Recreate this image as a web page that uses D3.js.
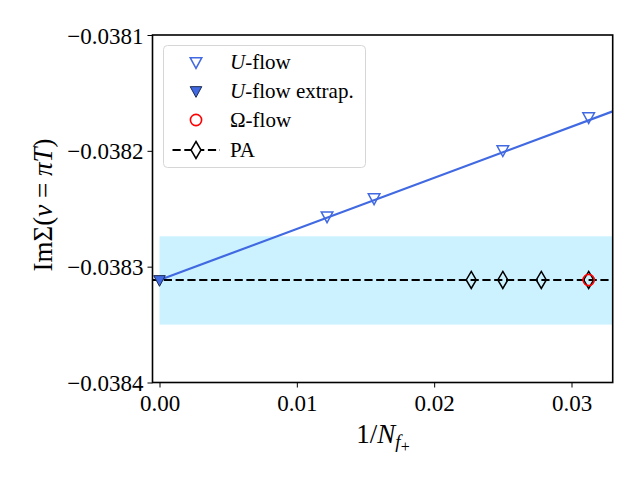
<!DOCTYPE html>
<html>
<head>
<meta charset="utf-8">
<script src="https://cdn.jsdelivr.net/npm/d3@7"></script>
<style>
  body { margin: 0; background: #fff; }
  svg text { font-family: "Liberation Serif", "DejaVu Serif", serif; fill: #000; }
</style>
</head>
<body>
<svg id="board" width="640" height="480"></svg>
<script>
// U-flow data points
let uflowX = [0.0122, 0.015625, 0.025, 0.03125]
let uflowY = [-0.0382565, -0.0382409, -0.0381994, -0.0381709]

// extrapolated value at 1/N = 0
let extrapX = [0]
let extrapY = [-0.0383115]

// linear fit through the U-flow points (end points)
let fitX = [0, 0.034]
let fitY = [-0.0383115, -0.0381615]

// Omega-flow point
let omegaX = [0.03125]
let omegaY = [-0.0383115]

// PA points
let paX = [0.0227, 0.025, 0.0278, 0.03125]
let paY = [-0.0383115, -0.0383115, -0.0383115, -0.0383115]
let paLevel = -0.0383115

// uncertainty band
let bandLow = -0.03835
let bandHigh = -0.0382738

let xTicks = [0, 0.01, 0.02, 0.03]
let yTicks = [-0.0384, -0.0383, -0.0382, -0.0381]

let svg = d3.select('#board')

let pLeft = 152.5, pRight = 612.7, pTop = 35, pBottom = 382.5

let x = d3.scaleLinear().domain([-0.00051, 0.033]).range([pLeft, pRight])
let y = d3.scaleLinear().domain([-0.0384, -0.0381]).range([pBottom, pTop])

svg.append('clipPath').attr('id', 'clip')
    .append('rect')
    .attr('x', pLeft).attr('y', pTop)
    .attr('width', pRight - pLeft).attr('height', pBottom - pTop)

let plot = svg.append('g').attr('clip-path', 'url(#clip)')

// band
plot.append('rect')
    .attr('x', x(0))
    .attr('y', y(bandHigh))
    .attr('width', x(0.04) - x(0))
    .attr('height', y(bandLow) - y(bandHigh))
    .attr('fill', '#ccf2ff')

// fit line
let line = d3.line().x((d) => x(d[0])).y((d) => y(d[1]))
plot.append('path')
    .attr('d', line(fitX.map((v, i) => [v, fitY[i]])))
    .attr('fill', 'none')
    .attr('stroke', 'royalblue')
    .attr('stroke-width', 2.2)

// PA dashed line
plot.append('path')
    .attr('d', line([[-0.01, paLevel], [0.04, paLevel]]))
    .attr('fill', 'none')
    .attr('stroke', '#000')
    .attr('stroke-width', 2.2)
    .attr('stroke-dasharray', '8.2,3.6')

// marker shapes
let triDown = (s) => 'M' + (-s) + ',' + (-s * 0.75) + 'L' + s + ',' + (-s * 0.75) + 'L0,' + (s * 0.75 + 2) + 'Z'
let diamond = (w, h) => 'M0,' + (-h) + 'L' + w + ',0L0,' + h + 'L' + (-w) + ',0Z'

let drawPA = (g, px, py) => {
    g.append('path')
        .attr('d', diamond(5, 8.5))
        .attr('transform', 'translate(' + px + ',' + py + ')')
        .attr('fill', 'none')
        .attr('stroke', '#000')
        .attr('stroke-width', 1.5)
}

paX.forEach((v, i) => drawPA(plot, x(v), y(paY[i])))

omegaX.forEach((v, i) => {
    plot.append('circle')
        .attr('cx', x(v)).attr('cy', y(omegaY[i])).attr('r', 5.6)
        .attr('fill', 'none').attr('stroke', 'red').attr('stroke-width', 1.6)
})

uflowX.forEach((v, i) => {
    plot.append('path')
        .attr('d', triDown(5.8))
        .attr('transform', 'translate(' + x(v) + ',' + y(uflowY[i]) + ')')
        .attr('fill', 'none').attr('stroke', 'royalblue').attr('stroke-width', 1.5)
})

svg.selectAll('.extrap')
    .data(extrapX)
    .enter()
    .append('path')
    .attr('class', 'extrap')
    .attr('d', triDown(5.8))
    .attr('transform', (d, i) => 'translate(' + x(d) + ',' + y(extrapY[i]) + ')')
    .attr('fill', 'royalblue').attr('stroke', '#1a2a55').attr('stroke-width', 1)

// axes
let fmtY = (d) => d3.format('.4f')(d).replace('-', '\u2212')
let xAxis = d3.axisBottom(x).tickValues(xTicks).tickFormat(d3.format('.2f')).tickSize(5).tickPadding(4)
let yAxis = d3.axisLeft(y).tickValues(yTicks).tickFormat(fmtY).tickSize(5).tickPadding(4)

let gx = svg.append('g').attr('transform', 'translate(0,' + pBottom + ')').call(xAxis)
let gy = svg.append('g').attr('transform', 'translate(' + pLeft + ',0)').call(yAxis)
;[gx, gy].forEach((g) => {
    g.attr('font-family', '"Liberation Serif", serif').attr('font-size', 23)
    g.select('.domain').remove()
    g.selectAll('text').style('font-family', '"Liberation Serif", serif').style('font-size', '23px').attr('fill', '#000')
    g.selectAll('line').attr('stroke', '#000').attr('stroke-width', 1)
})
gx.selectAll('text').attr('dy', '0.85em')
gy.selectAll('text').attr('dy', '0.35em')

svg.append('rect')
    .attr('x', pLeft).attr('y', pTop)
    .attr('width', pRight - pLeft).attr('height', pBottom - pTop)
    .attr('fill', 'none').attr('stroke', '#000').attr('stroke-width', 1.6)

// axis labels
let xl = svg.append('text').attr('x', 383).attr('y', 443).attr('text-anchor', 'middle').style('font-size', '27px')
xl.append('tspan').text('1/')
xl.append('tspan').style('font-style', 'italic').text('N')
xl.append('tspan').style('font-style', 'italic').style('font-size', '19px').attr('dy', 5).text('f')
xl.append('tspan').style('font-size', '16px').attr('dy', 4).text('+')

let yl = svg.append('text')
    .attr('transform', 'translate(52,205) rotate(-90)')
    .attr('text-anchor', 'middle')
    .style('font-size', '27px')
yl.append('tspan').text('Im\u03a3(')
yl.append('tspan').style('font-style', 'italic').text('\u03bd')
yl.append('tspan').text(' = ')
yl.append('tspan').style('font-style', 'italic').text('\u03c0T')
yl.append('tspan').text(')')

// legend
let legend = svg.append('g')
legend.append('rect')
    .attr('x', 163.5).attr('y', 45.5).attr('width', 202).attr('height', 122)
    .attr('rx', 4).attr('fill', '#fff').attr('fill-opacity', 0.8)
    .attr('stroke', '#d6d6d6').attr('stroke-width', 1)

let rowY = [62, 91, 120, 150]
let lx = 196

legend.append('path').attr('d', triDown(5.8)).attr('transform', 'translate(' + lx + ',' + rowY[0] + ')')
    .attr('fill', 'none').attr('stroke', 'royalblue').attr('stroke-width', 1.5)
legend.append('path').attr('d', triDown(5.8)).attr('transform', 'translate(' + lx + ',' + rowY[1] + ')')
    .attr('fill', 'royalblue').attr('stroke', '#1a2a55').attr('stroke-width', 1)
legend.append('circle').attr('cx', lx).attr('cy', rowY[2]).attr('r', 5.6)
    .attr('fill', 'none').attr('stroke', 'red').attr('stroke-width', 1.6)
legend.append('path').attr('d', 'M172,' + rowY[3] + 'L220,' + rowY[3])
    .attr('stroke', '#000').attr('stroke-width', 2.2).attr('stroke-dasharray', '8.2,3.6')
    .attr('stroke-dashoffset', -0.5)
legend.append('path').attr('d', diamond(5, 8.5)).attr('transform', 'translate(' + lx + ',' + rowY[3] + ')')
    .attr('fill', '#fff').attr('stroke', '#000').attr('stroke-width', 1.5)

let labels = [
    [['U', true], ['-flow', false]],
    [['U', true], ['-flow extrap.', false]],
    [['\u03a9-flow', false]],
    [['PA', false]]
]
labels.forEach((parts, i) => {
    let t = legend.append('text').attr('x', 230).attr('y', rowY[i]).attr('dy', '0.35em').style('font-size', '21px')
    parts.forEach((p) => {
        t.append('tspan').style('font-style', p[1] ? 'italic' : 'normal').text(p[0])
    })
})
</script>
</body>
</html>
